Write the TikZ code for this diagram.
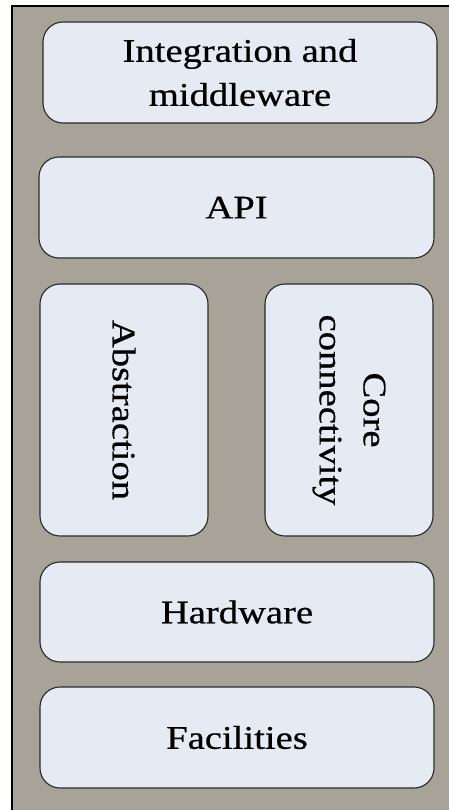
\documentclass[tikz,border=0pt]{standalone}
\usepackage{fontspec}
\newfontfamily\boxfont[FakeStretch=1.17,FakeBold=0.6]{Liberation Serif}
\definecolor{bgframe}{RGB}{168,163,152}
\definecolor{boxfill}{RGB}{230,235,243}
\definecolor{boxline}{RGB}{40,40,40}
\tikzset{
  layerbox/.style={draw=boxline, line width=1.1pt, fill=boxfill, rounded corners=20pt,
    inner sep=0pt, align=center, font=\boxfont\fontsize{33}{44}\selectfont},
}
\begin{document}
\begin{tikzpicture}[x=1pt,y=-1pt]
\useasboundingbox (0,0) rectangle (448,810);
\fill[white] (0,0) rectangle (448,810);
\draw[fill=bgframe, draw=black, line width=1.6pt] (12,6) rectangle (470,830);
\node[layerbox, minimum width=394pt, minimum height=101pt] (integ) at (240,72.5) {Integration and\\middleware};
\node[layerbox, minimum width=395pt, minimum height=101pt] (api) at (236.5,207.5) {API};
\node[layerbox, rotate=-90, minimum width=252pt, minimum height=168pt] (abs) at (124,410) {Abstraction};
\node[layerbox, rotate=-90, minimum width=252pt, minimum height=168pt] (core) at (349,410) {Core\\connectivity};
\node[layerbox, minimum width=394pt, minimum height=100pt] (hw) at (237,612) {Hardware};
\node[layerbox, minimum width=394pt, minimum height=101pt] (fac) at (237,737.5) {Facilities};
\end{tikzpicture}
\end{document}
